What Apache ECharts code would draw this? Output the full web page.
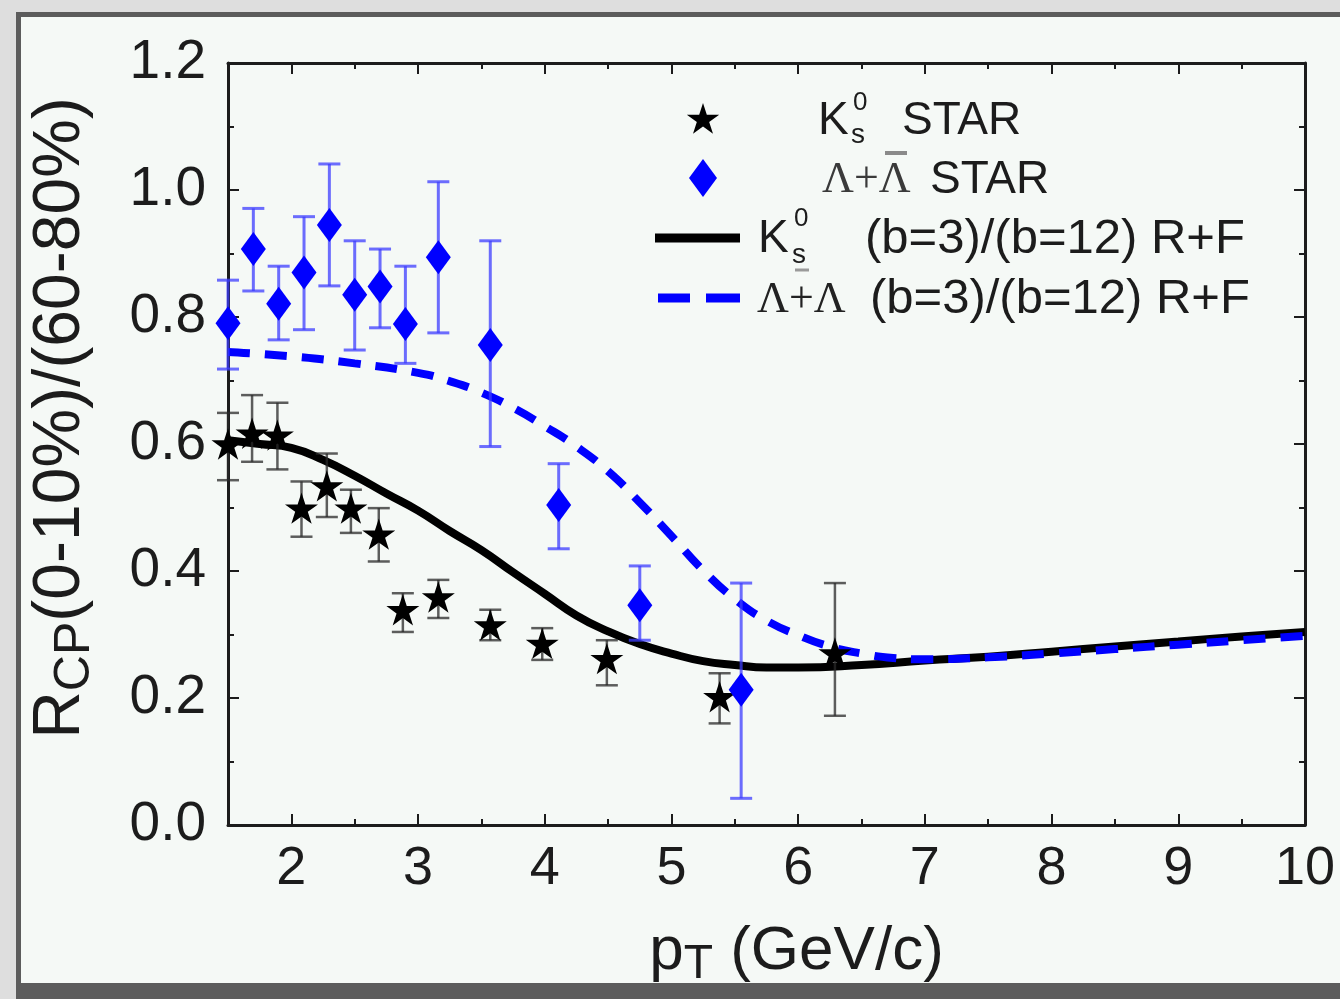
<!DOCTYPE html>
<html>
<head>
<meta charset="utf-8">
<script src="https://cdn.jsdelivr.net/npm/echarts@6/dist/echarts.min.js"></script>
<style>
  html, body { margin: 0; padding: 0; background: #dedede; }
  #frame { position: absolute; left: 16px; top: 12px; width: 1324px; height: 987px; background: #5c5c5c; }
  #main { position: absolute; left: 21px; top: 17px; width: 1319px; height: 966px; background: #f5f9f6; }
</style>
</head>
<body>
<div id="frame"></div>
<div id="main"></div>
<script>
// tick positions
var xMajor = [2, 3, 4, 5, 6, 7, 8, 9, 10];
var xMinor = [1.5, 2.5, 3.5, 4.5, 5.5, 6.5, 7.5, 8.5, 9.5];

// K0s STAR points
var ksPt  = [1.50, 1.69, 1.89, 2.08, 2.28, 2.47, 2.69, 2.88, 3.16, 3.57, 3.98, 4.49, 5.38, 6.29];
var ksVal = [0.600, 0.617, 0.614, 0.499, 0.534, 0.499, 0.458, 0.339, 0.359, 0.315, 0.286, 0.262, 0.202, 0.271];
var ksHi  = [0.649, 0.677, 0.665, 0.541, 0.585, 0.528, 0.499, 0.365, 0.386, 0.339, 0.310, 0.291, 0.239, 0.381];
var ksLo  = [0.543, 0.572, 0.560, 0.454, 0.485, 0.460, 0.415, 0.304, 0.326, 0.291, 0.260, 0.220, 0.160, 0.172];

// Lambda + anti-Lambda STAR points
var lamPt  = [1.50, 1.70, 1.90, 2.10, 2.30, 2.50, 2.70, 2.90, 3.16, 3.57, 4.11, 4.75, 5.55];
var lamVal = [0.790, 0.907, 0.821, 0.870, 0.945, 0.835, 0.848, 0.789, 0.894, 0.756, 0.504, 0.346, 0.213];
var lamHi  = [0.858, 0.971, 0.880, 0.958, 1.041, 0.920, 0.907, 0.880, 1.013, 0.920, 0.569, 0.408, 0.381];
var lamLo  = [0.718, 0.841, 0.764, 0.780, 0.849, 0.748, 0.783, 0.727, 0.775, 0.596, 0.435, 0.291, 0.042];

// R+F model curves
var ksCurvePt  = [1.5, 1.75, 2.0, 2.25, 2.5, 2.75, 3.0, 3.25, 3.5, 3.75, 4.0, 4.25, 4.5, 4.75, 5.0, 5.25, 5.5, 5.75, 6.0, 6.5, 7.0, 7.5, 8.0, 8.5, 9.0, 9.5, 10.0];
var ksCurveVal = [0.606, 0.600, 0.594, 0.575, 0.550, 0.522, 0.495, 0.463, 0.433, 0.398, 0.364, 0.330, 0.305, 0.285, 0.270, 0.258, 0.252, 0.248, 0.248, 0.252, 0.259, 0.265, 0.273, 0.281, 0.289, 0.297, 0.304];
var lamCurvePt  = [1.5, 2.0, 2.5, 3.0, 3.25, 3.5, 3.75, 4.0, 4.25, 4.5, 4.75, 5.0, 5.25, 5.5, 5.75, 6.0, 6.25, 6.5, 6.75, 7.0, 7.5, 8.0, 8.5, 9.0, 9.5, 10.0];
var lamCurveVal = [0.745, 0.738, 0.727, 0.712, 0.699, 0.681, 0.657, 0.628, 0.596, 0.557, 0.508, 0.455, 0.401, 0.356, 0.322, 0.299, 0.281, 0.270, 0.263, 0.261, 0.264, 0.270, 0.277, 0.284, 0.291, 0.298];

var FONT = 'Liberation Sans';
var INK = '#1c1c1c';

function pairs(xs, ys) {
    return xs.map(function (x, i) { return [x, ys[i]]; });
}

function errorBars(xs, lo, hi, color, width) {
    return {
        type: 'custom',
        data: xs.map(function (x, i) { return [x, lo[i], hi[i]]; }),
        encode: { x: 0, y: [1, 2] },
        z: 3,
        renderItem: function (params, api) {
            var top = api.coord([api.value(0), api.value(2)]);
            var bot = api.coord([api.value(0), api.value(1)]);
            var cap = 11;
            var style = { stroke: color, lineWidth: width };
            return {
                type: 'group',
                children: [
                    { type: 'line', shape: { x1: top[0], y1: top[1], x2: bot[0], y2: bot[1] }, style: style },
                    { type: 'line', shape: { x1: top[0] - cap, y1: top[1], x2: top[0] + cap, y2: top[1] }, style: style },
                    { type: 'line', shape: { x1: bot[0] - cap, y1: bot[1], x2: bot[0] + cap, y2: bot[1] }, style: style }
                ]
            };
        }
    };
}

function starPoints(cx, cy, R, r) {
    var pts = [];
    for (var i = 0; i < 10; i++) {
        var a = -Math.PI / 2 + i * Math.PI / 5;
        var rad = i % 2 === 0 ? R : r;
        pts.push([cx + rad * Math.cos(a), cy + rad * Math.sin(a)]);
    }
    return pts;
}

function txt(x, y, s, size, family, color) {
    return {
        type: 'text', x: x, y: y, z: 10,
        style: { text: s, fontSize: size, fontFamily: family || FONT, fill: color || INK, verticalAlign: 'middle' }
    };
}

var starSymbol = 'path://M50,0 L61.2,34.5 97.6,34.5 68.2,55.9 79.4,90.5 50,69.1 20.6,90.5 31.8,55.9 2.4,34.5 38.8,34.5Z';

function xAxisCopy(pos, vals, len, withLine, withLabel) {
    return {
        type: 'value', min: 1.5, max: 10, position: pos,
        axisLine: { show: withLine, lineStyle: { color: INK, width: 3 } },
        axisTick: { inside: true, length: len, customValues: vals, lineStyle: { color: INK, width: 2 } },
        axisLabel: withLabel ? { customValues: xMajor, fontSize: 54, fontFamily: FONT, color: INK, margin: 17 } : { show: false },
        splitLine: { show: false }
    };
}

var dom = document.getElementById('main');
var myChart = echarts.init(dom, null, { renderer: 'canvas' });

var xMain = xAxisCopy('bottom', xMajor, 11, true, true);
xMain.name = '{p|p}{sub|T}{p| (GeV/c)}';
xMain.nameLocation = 'middle';
xMain.nameGap = 90;
xMain.nameTextStyle = {
    padding: [0, 0, 0, 60],
    rich: {
        p: { fontSize: 62, fontFamily: FONT, color: INK, lineHeight: 74, verticalAlign: 'middle' },
        sub: { fontSize: 48, fontFamily: FONT, color: INK, lineHeight: 40, verticalAlign: 'bottom' }
    }
};

var option = {
    animation: false,
    backgroundColor: '#f5f9f6',
    grid: { left: 207, top: 46, right: 35, bottom: 158, outerBoundsMode: 'none' },
    xAxis: [
        xMain,
        xAxisCopy('bottom', xMinor, 6, false, false),
        xAxisCopy('top', xMajor, 11, true, false),
        xAxisCopy('top', xMinor, 6, false, false)
    ],
    yAxis: [
        {
            type: 'value', min: 0, max: 1.2, interval: 0.2, position: 'left',
            axisLine: { show: true, lineStyle: { color: INK, width: 3 } },
            axisTick: { inside: true, length: 11, lineStyle: { color: INK, width: 2 } },
            minorTick: { show: true, splitNumber: 2, length: 6, lineStyle: { color: INK, width: 2 } },
            axisLabel: { fontSize: 55, fontFamily: FONT, color: INK, margin: 22, formatter: function (v) { return v.toFixed(1); } },
            splitLine: { show: false },
            name: '{r|R}{sub|CP}{r|(0-10%)/(60-80%)}',
            nameLocation: 'middle',
            nameGap: 128,
            nameTextStyle: {
                padding: [0, 0, 0, 52],
                rich: {
                    r: { fontSize: 66, fontFamily: FONT, color: INK, lineHeight: 78, verticalAlign: 'middle' },
                    sub: { fontSize: 50, fontFamily: FONT, color: INK, lineHeight: 38, verticalAlign: 'bottom' }
                }
            }
        },
        {
            type: 'value', min: 0, max: 1.2, interval: 0.2, position: 'right',
            axisLine: { show: true, lineStyle: { color: INK, width: 3 } },
            axisTick: { inside: true, length: 11, lineStyle: { color: INK, width: 2 } },
            minorTick: { show: true, splitNumber: 2, length: 6, lineStyle: { color: INK, width: 2 } },
            axisLabel: { show: false },
            splitLine: { show: false }
        }
    ],
    series: [
        {
            name: 'K0s R+F', type: 'line', data: pairs(ksCurvePt, ksCurveVal),
            smooth: true, showSymbol: false, z: 2,
            lineStyle: { color: '#000', width: 8 }
        },
        {
            name: 'Lambda R+F', type: 'line', data: pairs(lamCurvePt, lamCurveVal),
            smooth: true, showSymbol: false, z: 2,
            lineStyle: { color: '#0000ff', width: 8, type: [22, 15] }
        },
        errorBars(ksPt, ksLo, ksHi, 'rgba(40,40,40,0.75)', 2.5),
        errorBars(lamPt, lamLo, lamHi, 'rgba(60,60,255,0.75)', 3),
        {
            name: 'K0s STAR', type: 'scatter', data: pairs(ksPt, ksVal), z: 4,
            symbol: starSymbol, symbolKeepAspect: true, symbolSize: 33,
            itemStyle: { color: '#000', opacity: 1 }
        },
        {
            name: 'Lambda STAR', type: 'scatter', data: pairs(lamPt, lamVal), z: 5,
            symbol: 'diamond', symbolSize: [25, 34],
            itemStyle: { color: '#0000ff', opacity: 1 }
        }
    ],
    graphic: [
        // legend row 1: K0s STAR
        { type: 'polygon', z: 10, shape: { points: starPoints(682, 103, 17, 6.5) }, style: { fill: '#000' } },
        txt(797, 104, 'K', 46),
        txt(832, 86, '0', 26),
        txt(830, 118, 's', 28),
        txt(881, 104, 'STAR', 46),
        // legend row 2: Lambda STAR
        { type: 'polygon', z: 10, shape: { points: [[682, 142], [696, 161], [682, 180], [668, 161]] }, style: { fill: '#0000ff' } },
        txt(801, 163, 'Λ+Λ', 44, 'Liberation Serif', '#3a3a3a'),
        { type: 'line', z: 10, shape: { x1: 864, y1: 136, x2: 886, y2: 136 }, style: { stroke: '#8a8a8a', lineWidth: 4 } },
        txt(909, 163, 'STAR', 46),
        // legend row 3: K0s R+F
        { type: 'line', z: 10, shape: { x1: 634, y1: 221, x2: 719, y2: 221 }, style: { stroke: '#000', lineWidth: 9 } },
        txt(737, 222, 'K', 46),
        txt(773, 202, '0', 26),
        txt(771, 238, 's', 28),
        { type: 'line', z: 10, shape: { x1: 774, y1: 253, x2: 788, y2: 253 }, style: { stroke: '#9a9a9a', lineWidth: 3 } },
        txt(844, 222, '(b=3)/(b=12) R+F', 49),
        // legend row 4: Lambda R+F
        { type: 'line', z: 10, shape: { x1: 637, y1: 281, x2: 669, y2: 281 }, style: { stroke: '#0000ff', lineWidth: 9 } },
        { type: 'line', z: 10, shape: { x1: 685, y1: 281, x2: 719, y2: 281 }, style: { stroke: '#0000ff', lineWidth: 9 } },
        txt(736, 283, 'Λ+Λ', 44, 'Liberation Serif', '#222'),
        txt(849, 282, '(b=3)/(b=12) R+F', 49)
    ]
};

myChart.setOption(option);
window.addEventListener('resize', myChart.resize);
</script>
</body>
</html>
